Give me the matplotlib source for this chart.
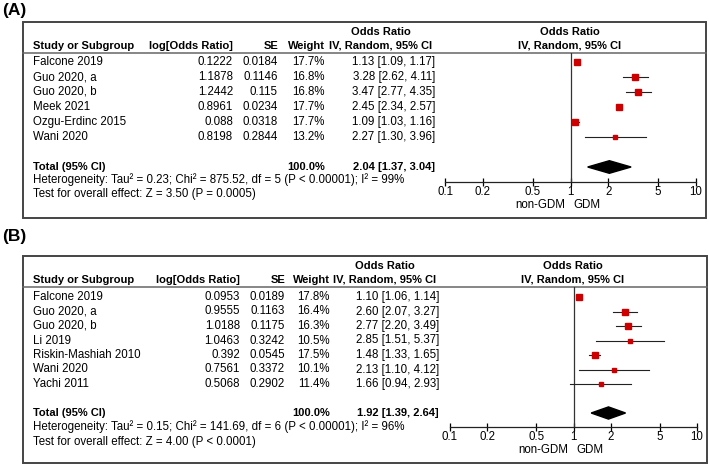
import matplotlib
matplotlib.use("Agg")
import matplotlib.pyplot as plt
from matplotlib.patches import Rectangle, Polygon

plt.rcParams['font.family'] = ['Liberation Sans', 'DejaVu Sans']
plt.rcParams['font.size'] = 8.3

# Данные панели A
studies_a = ["Falcone 2019", "Guo 2020, a", "Guo 2020, b", "Meek 2021", "Ozgu-Erdinc 2015", "Wani 2020"]
log_or_a = [0.1222, 1.1878, 1.2442, 0.8961, 0.088, 0.8198]
se_a = [0.0184, 0.1146, 0.115, 0.0234, 0.0318, 0.2844]
weight_a = [17.7, 16.8, 16.8, 17.7, 17.7, 13.2]
or_a = [1.13, 3.28, 3.47, 2.45, 1.09, 2.27]
lo_a = [1.09, 2.62, 2.77, 2.34, 1.03, 1.30]
hi_a = [1.17, 4.11, 4.35, 2.57, 1.16, 3.96]
total_a = [2.04, 1.37, 3.04]
het_a = "Heterogeneity: Tau² = 0.23; Chi² = 875.52, df = 5 (P < 0.00001); I² = 99%"
test_a = "Test for overall effect: Z = 3.50 (P = 0.0005)"

# Данные панели B
studies_b = ["Falcone 2019", "Guo 2020, a", "Guo 2020, b", "Li 2019", "Riskin-Mashiah 2010", "Wani 2020", "Yachi 2011"]
log_or_b = [0.0953, 0.9555, 1.0188, 1.0463, 0.392, 0.7561, 0.5068]
se_b = [0.0189, 0.1163, 0.1175, 0.3242, 0.0545, 0.3372, 0.2902]
weight_b = [17.8, 16.4, 16.3, 10.5, 17.5, 10.1, 11.4]
or_b = [1.10, 2.60, 2.77, 2.85, 1.48, 2.13, 1.66]
lo_b = [1.06, 2.07, 2.20, 1.51, 1.33, 1.10, 0.94]
hi_b = [1.14, 3.27, 3.49, 5.37, 1.65, 4.12, 2.93]
total_b = [1.92, 1.39, 2.64]
het_b = "Heterogeneity: Tau² = 0.15; Chi² = 141.69, df = 6 (P < 0.00001); I² = 96%"
test_b = "Test for overall effect: Z = 4.00 (P < 0.0001)"

ticks = [0.1, 0.2, 0.5, 1, 2, 5, 10]
tick_labels = ["0.1", "0.2", "0.5", "1", "2", "5", "10"]

W, H = 709, 466
fig = plt.figure(figsize=(W / 100, H / 100), dpi=100)
bg = fig.add_axes([0, 0, 1, 1])
bg.set_xlim(0, W)
bg.set_ylim(H, 0)
bg.axis('off')

BOX_C = '#444444'
RED = '#cc0000'
BF = 8  # размер жирного шрифта


def draw_panel(label, studies, log_or, se, weight, ors, lo, hi, total, het, test, g):
    # g - геометрия панели в пикселях
    bg.text(2, g['label_y'], label, fontsize=12.5, fontweight='bold', va='center', ha='left')
    bg.add_patch(Rectangle((23, g['top']), g['right'] - 23, g['bottom'] - g['top'],
                           fill=False, ec=BOX_C, lw=1.4))
    bg.plot([23, g['right']], [g['hline'], g['hline']], color='#666666', lw=1.1)

    cx = g['cols']
    y1, y2 = g['hline'] - 21, g['hline'] - 7
    hdr = dict(fontweight='bold', fontsize=BF, va='center')
    bg.text(cx['ci'] - 54, y1, "Odds Ratio", ha='center', **hdr)
    bg.text(cx['ci'] - 54, y2, "IV, Random, 95% CI", ha='center', **hdr)
    bg.text(g['null_x'], y1, "Odds Ratio", ha='center', **hdr)
    bg.text(g['null_x'], y2, "IV, Random, 95% CI", ha='center', **hdr)
    bg.text(33, y2, "Study or Subgroup", ha='left', **hdr)
    bg.text(cx['log'], y2, "log[Odds Ratio]", ha='right', **hdr)
    bg.text(cx['se'], y2, "SE", ha='right', **hdr)
    bg.text(cx['w'], y2, "Weight", ha='right', **hdr)

    n = len(studies)
    for i in range(n):
        y = g['row0'] + i * g['dy']
        bg.text(33, y, studies[i], ha='left', va='center')
        bg.text(cx['log'], y, str(log_or[i]), ha='right', va='center')
        bg.text(cx['se'], y, str(se[i]), ha='right', va='center')
        bg.text(cx['w'], y, f"{weight[i]:.1f}%", ha='right', va='center')
        bg.text(cx['ci'], y, f"{ors[i]:.2f} [{lo[i]:.2f}, {hi[i]:.2f}]", ha='right', va='center')
    yt = g['row0'] + (n + 1) * g['dy']
    bg.text(33, yt, "Total (95% CI)", ha='left', **hdr)
    bg.text(cx['w'], yt, "100.0%", ha='right', **hdr)
    bg.text(cx['ci'], yt, f"{total[0]:.2f} [{total[1]:.2f}, {total[2]:.2f}]", ha='right', **hdr)
    bg.text(33, g['het_y'], het, ha='left', va='center')
    bg.text(33, g['het_y'] + 14.5, test, ha='left', va='center')

    # форест-плот
    x0, x1 = g['x01'], g['x10']
    top, ax_y = g['hline'], g['axis_y']
    ax = fig.add_axes([x0 / W, 1 - ax_y / H, (x1 - x0) / W, (ax_y - top) / H])
    ax.set_xscale('log')
    ax.set_xlim(0.1, 10)
    idx_top = (top - g['row0']) / g['dy']
    idx_bot = (ax_y - g['row0']) / g['dy']
    ax.set_ylim(idx_bot, idx_top)
    ax.patch.set_alpha(0)
    for s in ['left', 'right', 'top']:
        ax.spines[s].set_visible(False)
    ax.spines['bottom'].set_color('#222222')
    ax.spines['bottom'].set_linewidth(0.9)
    ax.set_yticks([])
    ax.set_xticks(ticks)
    ax.set_xticklabels(tick_labels)
    ax.minorticks_off()
    ax.tick_params(axis='x', direction='inout', length=6, width=0.9, pad=0, labelsize=8.3)
    ax.axvline(1, color='#333333', lw=0.9)

    for i in range(n):
        ax.plot([lo[i], hi[i]], [i, i], color='#222222', lw=0.8)
        ax.plot(ors[i], i, marker='s', color=RED, ms=0.9 * weight[i] ** 0.5, mec=RED)
    yd = n + 1
    hh = 0.42
    ax.add_patch(Polygon([(total[1], yd), (total[0], yd - hh), (total[2], yd), (total[0], yd + hh)],
                         closed=True, color='black'))
    ax.annotate("non-GDM", xy=(1, 0), xycoords=('data', 'axes fraction'),
                xytext=(-4, g['lab_off']), textcoords='offset points', ha='right', va='top')
    ax.annotate("GDM", xy=(1, 0), xycoords=('data', 'axes fraction'),
                xytext=(2, g['lab_off']), textcoords='offset points', ha='left', va='top')


geo_a = dict(label_y=11, top=22, bottom=218, right=706, hline=53, row0=62, dy=15,
             het_y=180, axis_y=182, x01=445, x10=696, null_x=570, lab_off=-12,
             cols=dict(log=233, se=278, w=325, ci=435))
geo_b = dict(label_y=237, top=256, bottom=463, right=707, hline=287, row0=297, dy=14.5,
             het_y=427, axis_y=427, x01=450, x10=697, null_x=573, lab_off=-12.5,
             cols=dict(log=240, se=285, w=330, ci=439))

draw_panel("(A)", studies_a, log_or_a, se_a, weight_a, or_a, lo_a, hi_a, total_a, het_a, test_a, geo_a)
draw_panel("(B)", studies_b, log_or_b, se_b, weight_b, or_b, lo_b, hi_b, total_b, het_b, test_b, geo_b)

fig.savefig("out.png", dpi=100)
